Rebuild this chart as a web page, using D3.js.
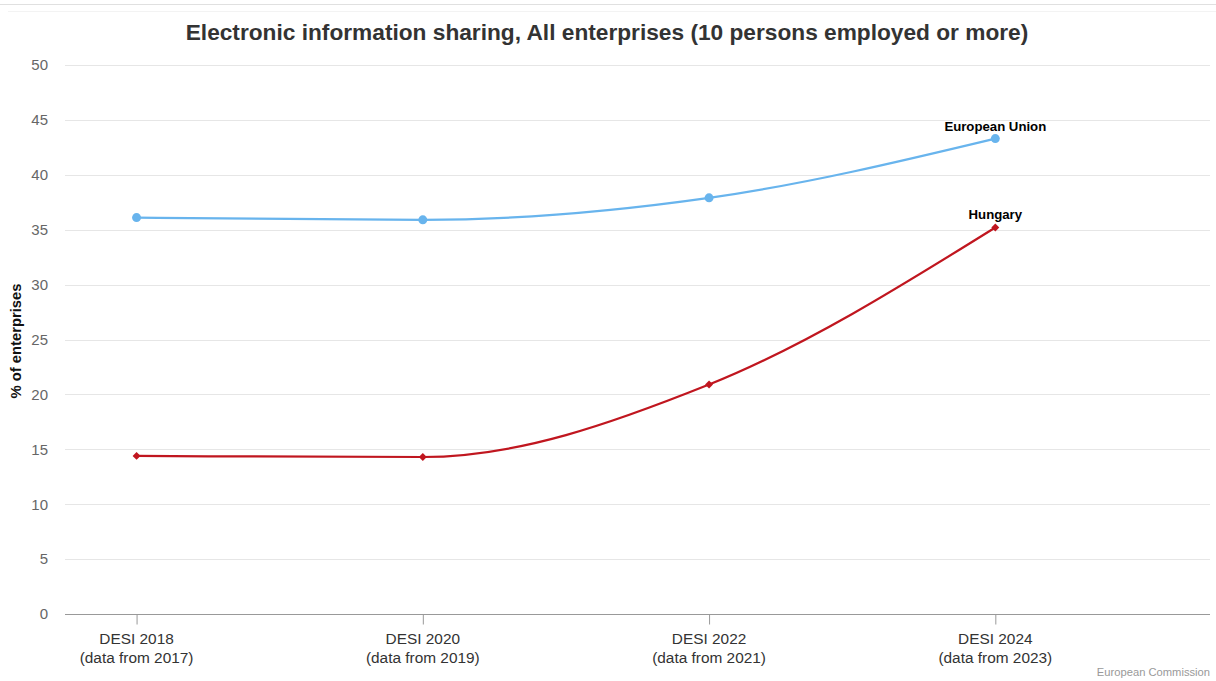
<!DOCTYPE html>
<html><head><meta charset="utf-8">
<script src="https://cdn.jsdelivr.net/npm/d3@7"></script>
<style>body{margin:0;background:#fff;}svg{display:block;font-family:"Liberation Sans",Arial,sans-serif;}</style>
</head><body>
<svg id="c" width="1216" height="681"></svg>
<script>
const categories = [["DESI 2018","(data from 2017)"],["DESI 2020","(data from 2019)"],["DESI 2022","(data from 2021)"],["DESI 2024","(data from 2023)"]];
const euValues = [36.1, 35.9, 37.9, 43.3];
const huValues = [14.4, 14.3, 20.9, 35.2];
const yTicks = [0,5,10,15,20,25,30,35,40,45,50];
const seriesNames = ["European Union","Hungary"];

const svg = d3.select("#c");
const pLeft = 65, pRight = 1210, pTop = 65, pBottom = 614;
const x = d3.scaleLinear().domain([-0.25, 3.75]).range([pLeft, pRight]);
const y = d3.scaleLinear().domain([0, 50]).range([pBottom, pTop]);

svg.append("line").attr("x1",0).attr("x2",1216).attr("y1",4.5).attr("y2",4.5).attr("stroke","#e0e0e0");
svg.append("line").attr("x1",8).attr("x2",1216).attr("y1",11.5).attr("y2",11.5).attr("stroke","#f3f3f3");

svg.append("text").attr("x",607).attr("y",40).attr("text-anchor","middle")
  .attr("font-size",22.7).attr("font-weight","bold").attr("fill","#333")
  .text("Electronic information sharing, All enterprises (10 persons employed or more)");

// grid
svg.append("g").selectAll("line").data(yTicks.filter(d=>d>0)).join("line")
  .attr("x1",pLeft).attr("x2",pRight).attr("y1",d=>Math.round(y(d))+0.5).attr("y2",d=>Math.round(y(d))+0.5)
  .attr("stroke","#e6e6e6");

// y axis labels
const yAxis = d3.axisLeft(y).tickValues(yTicks).tickSize(0).tickPadding(0);
const gy = svg.append("g").attr("transform",`translate(48,0)`).call(yAxis);
gy.select(".domain").remove();
gy.selectAll("text").attr("font-size",15).attr("fill","#666").attr("font-family","Liberation Sans, Arial, sans-serif").attr("dy","0.32em");

svg.append("text").attr("transform","translate(21,341) rotate(-90)").attr("text-anchor","middle")
  .attr("font-size",14.8).attr("font-weight","bold").attr("fill","#111").text("% of enterprises");

// x axis
const xAxis = d3.axisBottom(x).tickValues([0,1,2,3]).tickSize(10).tickFormat("");
const gx = svg.append("g").attr("transform",`translate(0,${pBottom+0.5})`).call(xAxis);
gx.select(".domain").attr("stroke","#999").attr("d",`M${pLeft},0H${pRight}`);
gx.selectAll(".tick line").attr("stroke","#999");
categories.forEach((c,i)=>{
  const t = svg.append("text").attr("x",x(i)).attr("text-anchor","middle").attr("font-size",15.4).attr("fill","#333");
  t.append("tspan").attr("x",x(i)).attr("y",644).text(c[0]);
  t.append("tspan").attr("x",x(i)).attr("y",663).text(c[1]);
});

const line = d3.line().x((d,i)=>x(i)).y(d=>y(d)).curve(d3.curveMonotoneX);
const euColor = "#68b4ed", huColor = "#c0161f";
svg.append("path").attr("d",line(euValues)).attr("fill","none").attr("stroke",euColor).attr("stroke-width",2.2);
svg.append("path").attr("d",line(huValues)).attr("fill","none").attr("stroke",huColor).attr("stroke-width",2.2);

svg.append("g").selectAll("circle").data(euValues).join("circle")
  .attr("cx",(d,i)=>x(i)).attr("cy",d=>y(d)).attr("r",4.5).attr("fill",euColor);
svg.append("g").selectAll("path").data(huValues).join("path")
  .attr("d",d3.symbol(d3.symbolDiamond2,40)())
  .attr("transform",(d,i)=>`translate(${x(i)},${y(d)})`).attr("fill",huColor);

svg.append("text").attr("x",x(3)).attr("y",y(euValues[3])-8).attr("text-anchor","middle")
  .attr("font-size",13.2).attr("font-weight","bold").attr("fill","#000").text(seriesNames[0]);
svg.append("text").attr("x",x(3)).attr("y",y(huValues[3])-9).attr("text-anchor","middle")
  .attr("font-size",13.2).attr("font-weight","bold").attr("fill","#000").text(seriesNames[1]);

svg.append("text").attr("x",1210).attr("y",676).attr("text-anchor","end")
  .attr("font-size",11.2).attr("fill","#999").text("European Commission");
</script>
</body></html>
